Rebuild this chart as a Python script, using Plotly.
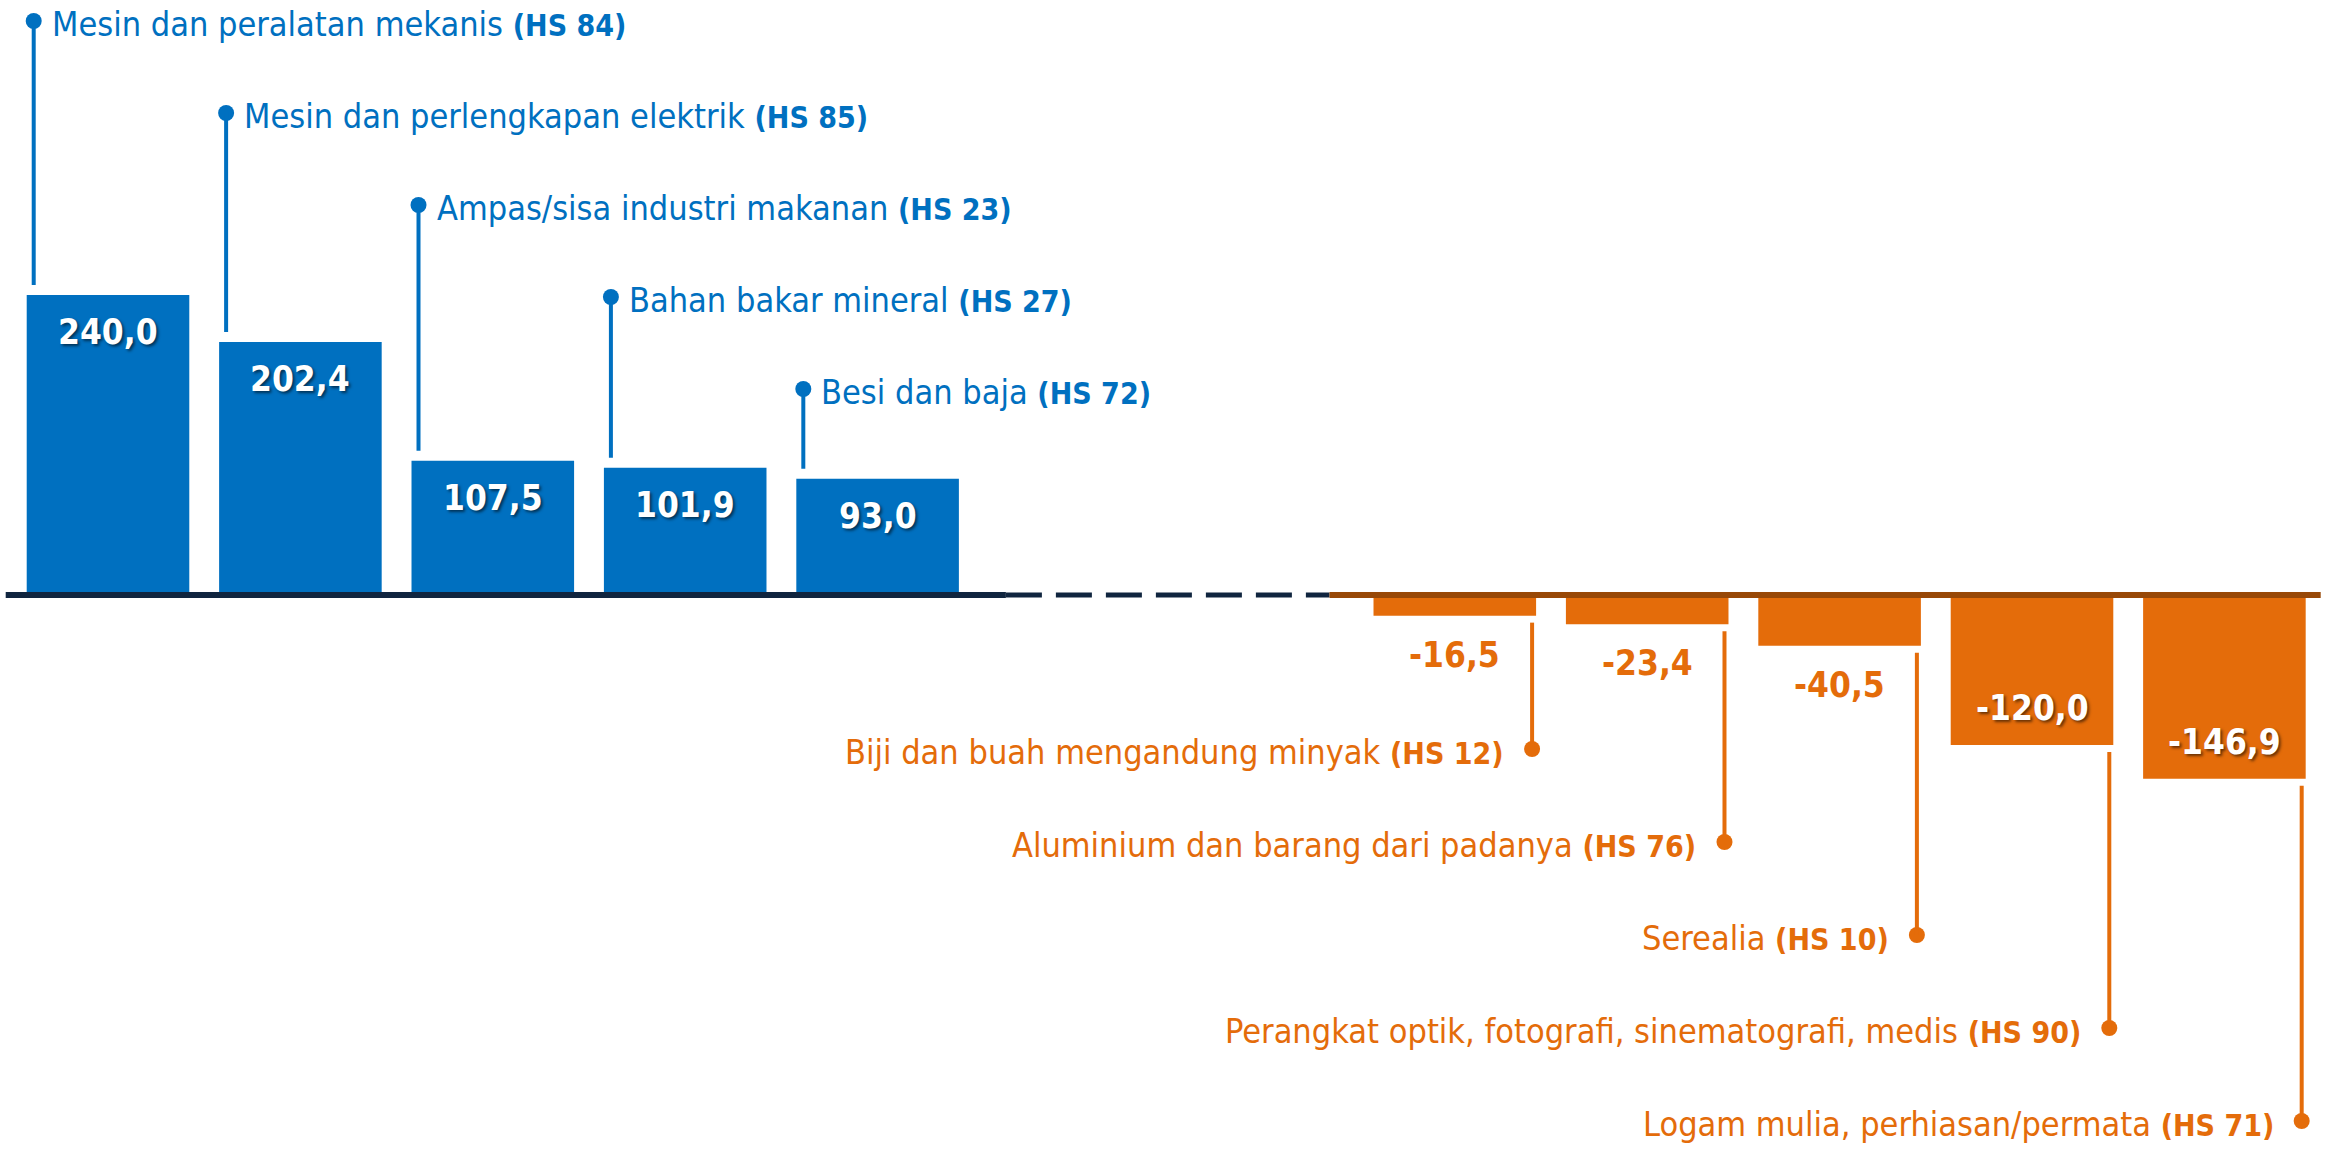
import plotly.graph_objects as go

# ---------------- data ----------------
names_pos = ["Mesin dan peralatan mekanis", "Mesin dan perlengkapan elektrik",
             "Ampas/sisa industri makanan", "Bahan bakar mineral", "Besi dan baja"]
hs_pos = ["HS 84", "HS 85", "HS 23", "HS 27", "HS 72"]
val_pos = [240.0, 202.4, 107.5, 101.9, 93.0]

names_neg = ["Biji dan buah mengandung minyak", "Aluminium dan barang dari padanya",
             "Serealia", "Perangkat optik, fotografi, sinematografi, medis",
             "Logam mulia, perhiasan/permata"]
hs_neg = ["HS 12", "HS 76", "HS 10", "HS 90", "HS 71"]
val_neg = [-16.5, -23.4, -40.5, -120.0, -146.9]

# ---------------- layout constants ----------------
W, H = 2339, 1149
BLUE = "#0070C0"
ORANGE = "#E46C0A"
ORANGE_DARK = "#984807"
NAVY = "#10253F"
FONT = "Liberation Sans Narrow, Arial Narrow, DejaVu Sans Condensed, sans-serif"

PX_PER_UNIT = 1.25
BASE_PX = 595.0
SLOT = 192.4
X0_PX = 108.0
BW = 0.845
GAP_SLOTS = 2

pos_pos = list(range(len(val_pos)))
pos_neg = [len(val_pos) + GAP_SLOTS + i for i in range(len(val_neg))]


def px2y(px):
    return (BASE_PX - px) / PX_PER_UNIT


def dx(px):
    return px / SLOT


def fmt(v):
    return f"{v:.1f}".replace(".", ",")


fig = go.Figure()
fig.add_trace(go.Bar(x=pos_pos, y=val_pos, width=BW, marker=dict(color=BLUE, line=dict(width=0)),
                     hoverinfo="skip"))
fig.add_trace(go.Bar(x=pos_neg, y=val_neg, width=BW, marker=dict(color=ORANGE, line=dict(width=0)),
                     hoverinfo="skip"))

shapes = []
annotations = []
shadow = "2px 2px 3px rgba(0,0,0,0.55)"
LABEL_SIZE = 34
HS_SIZE = 30
VAL_SIZE = 35

# positive leaders
dot_x_p, dot_y_p = [], []
for i, (p, v, n, hs) in enumerate(zip(pos_pos, val_pos, names_pos, hs_pos)):
    lx = p - BW / 2 + dx(7)
    ytop = px2y(21 + i * 92)
    shapes.append(dict(type="line", x0=lx, x1=lx, y0=v + 10 / PX_PER_UNIT, y1=ytop,
                       line=dict(color=BLUE, width=4), layer="above"))
    dot_x_p.append(lx)
    dot_y_p.append(ytop)
    annotations.append(dict(x=lx, y=ytop, xanchor="left", yanchor="middle", xshift=16, yshift=-3,
                            text=f"{n} <b><span style='font-size:{HS_SIZE}px'>({hs})</span></b>",
                            showarrow=False, font=dict(family=FONT, size=LABEL_SIZE, color=BLUE)))
    annotations.append(dict(x=p, y=v, xanchor="center", yanchor="middle", yshift=-37,
                            text=f"<b>{fmt(v)}</b>", showarrow=False,
                            font=dict(family=FONT, size=VAL_SIZE, color="white", shadow=shadow)))

# negative leaders
dot_x_n, dot_y_n = [], []
for i, (p, v, n, hs) in enumerate(zip(pos_neg, val_neg, names_neg, hs_neg)):
    lx = p + BW / 2 - dx(4)
    ybot = px2y(749 + i * 93)
    shapes.append(dict(type="line", x0=lx, x1=lx, y0=v - 7 / PX_PER_UNIT, y1=ybot,
                       line=dict(color=ORANGE, width=4), layer="above"))
    dot_x_n.append(lx)
    dot_y_n.append(ybot)
    annotations.append(dict(x=lx, y=ybot, xanchor="right", yanchor="middle", xshift=-26, yshift=-3,
                            text=f"{n} <b><span style='font-size:{HS_SIZE}px'>({hs})</span></b>",
                            showarrow=False, font=dict(family=FONT, size=LABEL_SIZE, color=ORANGE)))
    inside = abs(v) * PX_PER_UNIT > 100
    annotations.append(dict(x=p, y=v, xanchor="center", yanchor="middle",
                            yshift=37 if inside else -39,
                            text=f"<b>{fmt(v)}</b>", showarrow=False,
                            font=dict(family=FONT, size=VAL_SIZE,
                                      color="white" if inside else ORANGE,
                                      shadow=shadow if inside else "none")))

fig.add_trace(go.Scatter(x=dot_x_p, y=dot_y_p, mode="markers", hoverinfo="skip",
                         marker=dict(color=BLUE, size=16, line=dict(width=0))))
fig.add_trace(go.Scatter(x=dot_x_n, y=dot_y_n, mode="markers", hoverinfo="skip",
                         marker=dict(color=ORANGE, size=16, line=dict(width=0))))

# baseline
pos_end = pos_pos[-1] + BW / 2 + dx(47)
neg_start = pos_neg[0] - BW / 2 - dx(44)
shapes.append(dict(type="line", x0=pos_end, x1=neg_start, y0=0, y1=0,
                   line=dict(color=NAVY, width=5, dash="36px,14px"), layer="above"))
shapes.append(dict(type="line", x0=pos_pos[0] - BW / 2 - dx(21), x1=pos_end, y0=0, y1=0,
                   line=dict(color=NAVY, width=6), layer="above"))
shapes.append(dict(type="line", x0=neg_start, x1=pos_neg[-1] + BW / 2 + dx(15), y0=0, y1=0,
                   line=dict(color=ORANGE_DARK, width=6), layer="above"))

fig.update_layout(
    width=W, height=H,
    margin=dict(l=0, r=0, t=0, b=0),
    paper_bgcolor="white", plot_bgcolor="white",
    showlegend=False,
    barmode="overlay",
    shapes=shapes,
    annotations=annotations,
    xaxis=dict(range=[-X0_PX / SLOT, (W - X0_PX) / SLOT], visible=False, fixedrange=True),
    yaxis=dict(range=[px2y(H), px2y(0)], visible=False, fixedrange=True),
)

fig.write_html("out.html", config={"displayModeBar": False, "staticPlot": True},
               post_script="document.body.style.margin='0';document.body.style.overflow='hidden';")
